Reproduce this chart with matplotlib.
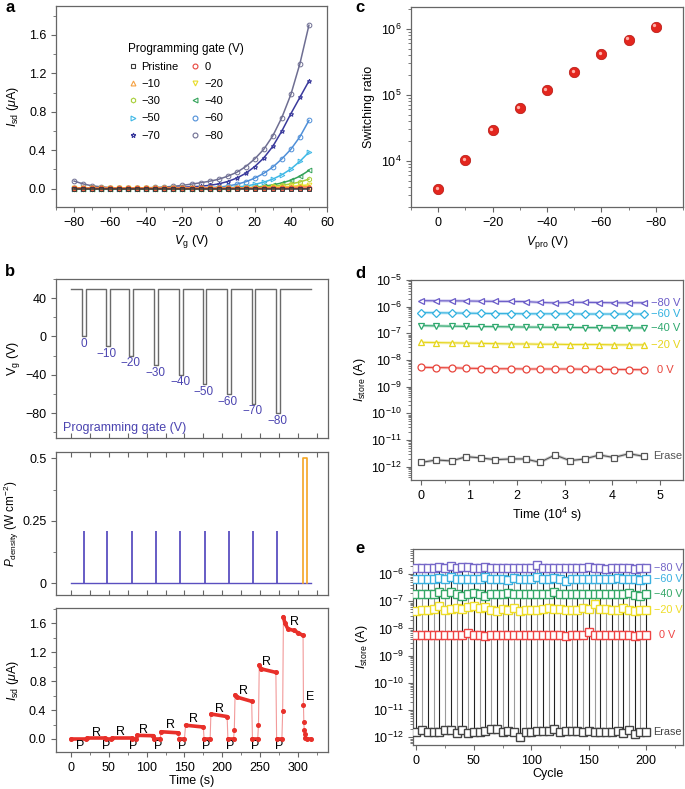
import numpy as np
import matplotlib
matplotlib.use('Agg')
import matplotlib.pyplot as plt
from matplotlib.lines import Line2D
from matplotlib import transforms
from matplotlib.ticker import MultipleLocator, FormatStrFormatter, LogLocator, NullFormatter, LogFormatterMathtext

plt.rcParams['font.family'] = ['Liberation Sans', 'DejaVu Sans']
plt.rcParams['mathtext.fontset'] = 'custom'
plt.rcParams['mathtext.rm'] = 'Liberation Sans'
plt.rcParams['mathtext.it'] = 'Liberation Sans:italic'
plt.rcParams['mathtext.bf'] = 'Liberation Sans:bold'
plt.rcParams['font.size'] = 9
plt.rcParams['axes.linewidth'] = 0.9
plt.rcParams['axes.edgecolor'] = '#666666'
plt.rcParams['xtick.color'] = '#666666'
plt.rcParams['ytick.color'] = '#666666'
plt.rcParams['xtick.labelcolor'] = 'black'
plt.rcParams['ytick.labelcolor'] = 'black'
plt.rcParams['xtick.major.size'] = 3.5
plt.rcParams['ytick.major.size'] = 3.5
plt.rcParams['xtick.minor.size'] = 2
plt.rcParams['ytick.minor.size'] = 2

MINUS = '\u2212'

# ---------------- panel a : transfer curves ----------------
vg_a = [-80, -75, -70, -65, -60, -55, -50, -45, -40, -35, -30, -25, -20, -15, -10, -5,
        0, 5, 10, 15, 20, 25, 30, 35, 40, 45, 50]
isd_pristine = [0, 0, 0, 0, 0, 0, 0, 0, 0, 0, 0, 0, 0, 0, 0, 0, 0, 0, 0, 0, 0, 0, 0, 0, 0, 0, 0]
isd_0 = [0.003, 0.003, 0.003, 0.003, 0.003, 0.003, 0.003, 0.003, 0.003, 0.003, 0.003, 0.003, 0.003,
         0.003, 0.003, 0.003, 0.003, 0.003, 0.003, 0.003, 0.003, 0.004, 0.004, 0.004, 0.005, 0.005, 0.006]
isd_10 = [0.009, 0.009, 0.009, 0.009, 0.009, 0.009, 0.009, 0.009, 0.009, 0.009, 0.009, 0.009, 0.009,
          0.009, 0.009, 0.009, 0.009, 0.009, 0.009, 0.009, 0.01, 0.011, 0.012, 0.014, 0.016, 0.019, 0.022]
isd_20 = [0.003, 0.003, 0.003, 0.003, 0.003, 0.003, 0.003, 0.003, 0.003, 0.003, 0.003, 0.003, 0.003,
          0.003, 0.003, 0.003, 0.003, 0.003, 0.003, 0.005, 0.007, 0.01, 0.014, 0.019, 0.025, 0.032, 0.04]
isd_30 = [0.002, 0.002, 0.002, 0.002, 0.002, 0.002, 0.002, 0.002, 0.002, 0.002, 0.002, 0.002, 0.002,
          0.002, 0.002, 0.002, 0.002, 0.002, 0.004, 0.007, 0.011, 0.017, 0.025, 0.036, 0.05, 0.07, 0.10]
isd_40 = [0.002, 0.002, 0.002, 0.002, 0.002, 0.002, 0.002, 0.002, 0.002, 0.002, 0.002, 0.002, 0.002,
          0.002, 0.002, 0.002, 0.002, 0.002, 0.005, 0.009, 0.016, 0.026, 0.04, 0.06, 0.088, 0.13, 0.19]
isd_50 = [0.002, 0.002, 0.002, 0.002, 0.002, 0.002, 0.002, 0.002, 0.002, 0.002, 0.002, 0.002, 0.002,
          0.002, 0.003, 0.004, 0.006, 0.01, 0.017, 0.028, 0.045, 0.068, 0.1, 0.145, 0.205, 0.285, 0.38]
isd_60 = [0.003, 0.003, 0.003, 0.003, 0.003, 0.003, 0.003, 0.003, 0.003, 0.003, 0.003, 0.003, 0.004,
          0.005, 0.007, 0.011, 0.017, 0.028, 0.046, 0.072, 0.11, 0.16, 0.225, 0.31, 0.41, 0.54, 0.71]
isd_70 = [0.01, 0.008, 0.006, 0.005, 0.005, 0.005, 0.005, 0.005, 0.006, 0.007, 0.009, 0.012, 0.016,
          0.02, 0.026, 0.035, 0.05, 0.075, 0.11, 0.16, 0.23, 0.32, 0.44, 0.6, 0.78, 0.95, 1.12]
isd_80 = [0.08, 0.05, 0.03, 0.02, 0.012, 0.008, 0.007, 0.008, 0.01, 0.013, 0.018, 0.025, 0.035,
          0.048, 0.062, 0.078, 0.098, 0.13, 0.17, 0.23, 0.31, 0.41, 0.55, 0.74, 0.98, 1.3, 1.70]

series_a = [
    ('Pristine', isd_pristine, 's', '#3a3a3a'),
    ('0', isd_0, 'o', '#e8453c'),
    (MINUS + '10', isd_10, '^', '#f5a142'),
    (MINUS + '20', isd_20, 'v', '#e8dc2a'),
    (MINUS + '30', isd_30, 'h', '#a8cf3a'),
    (MINUS + '40', isd_40, '<', '#34a35a'),
    (MINUS + '50', isd_50, '>', '#3fb8e6'),
    (MINUS + '60', isd_60, 'o', '#4f8fd8'),
    (MINUS + '70', isd_70, '*', '#3a3a9c'),
    (MINUS + '80', isd_80, 'o', '#6e6e92'),
]

# ---------------- panel b : programming sequence ----------------
prog_v = [0, -10, -20, -30, -40, -50, -60, -70, -80]
pulse_start = [15, 46, 77, 110, 143, 174, 206, 239, 271]
pulse_width = 5
vg_base = 50
t_end = 317

light_t = [17.2, 48, 80.7, 112.5, 144.7, 177, 209, 241, 273]
light_p = 0.21
erase_on, erase_off, erase_p = 306.5, 312.3, 0.5

isd_t = [0, 20, 21, 45, 46, 53, 54, 80, 81, 86, 87, 109, 110, 118, 119, 142, 143, 150, 151.5, 175,
         176, 184, 185, 206.5, 207.5, 215, 216, 217, 219, 239, 240, 247, 248, 249, 251, 271, 272,
         279, 280, 281, 283, 287, 295, 300, 307, 307.5, 308, 308.5, 309, 310, 312, 318]
isd_v = [0, 0, 0.008, 0.008, 0, 0, 0.02, 0.02, 0, 0, 0.05, 0.045, 0, 0, 0.1, 0.085, 0, 0, 0.19, 0.165,
         0, 0, 0.345, 0.31, 0, 0, 0.12, 0.61, 0.58, 0.52, 0, 0, 0.2, 1.02, 0.97, 0.92, 0,
         0, 0.38, 1.69, 1.6, 1.52, 1.5, 1.47, 1.43, 0.47, 0.24, 0.13, 0.07, 0.02, 0, 0]

r_label_t = [33, 65, 96, 131, 162, 196, 228, 259, 296]
r_label_y = [0.087, 0.1, 0.125, 0.19, 0.27, 0.415, 0.66, 1.07, 1.61]
p_label_t = [12, 47, 82, 115.6, 146.5, 178.8, 211, 243.4, 275.6]
e_label = (316, 0.58)

# ---------------- panel c : switching ratio ----------------
vpro = [0, -10, -20, -30, -40, -50, -60, -70, -80]
ratio = [3.7e3, 1.02e4, 2.9e4, 6.2e4, 1.17e5, 2.2e5, 4.1e5, 6.8e5, 1.08e6]

# ---------------- panel d : retention ----------------
time_d = [0, 0.31, 0.63, 0.94, 1.25, 1.55, 1.87, 2.18, 2.48, 2.8, 3.11, 3.42, 3.73, 4.03, 4.35, 4.66]
d_m80 = np.array([1.68, 1.66, 1.65, 1.64, 1.6, 1.58, 1.57, 1.55, 1.45, 1.38, 1.45, 1.45, 1.43, 1.4, 1.4, 1.4]) * 1e-6
d_m60 = np.array([6.0, 5.9, 5.8, 5.7, 5.6, 5.5, 5.5, 5.4, 5.4, 5.4, 5.4, 5.3, 5.3, 5.3, 5.3, 5.3]) * 1e-7
d_m40 = np.array([1.95, 1.9, 1.85, 1.82, 1.8, 1.78, 1.75, 1.72, 1.7, 1.68, 1.66, 1.65, 1.63, 1.62, 1.6, 1.6]) * 1e-7
d_m20 = np.array([4.6, 4.5, 4.4, 4.3, 4.2, 4.1, 4.0, 4.0, 3.9, 3.9, 3.8, 3.8, 3.8, 3.7, 3.7, 3.7]) * 1e-8
d_0 = np.array([5.3, 5.2, 5.1, 4.9, 4.8, 4.7, 4.7, 4.6, 4.6, 4.6, 4.6, 4.5, 4.5, 4.4, 4.4, 4.3]) * 1e-9
d_erase = np.array([1.45, 1.78, 1.64, 2.37, 2.12, 1.83, 1.95, 1.95, 1.45, 2.75, 1.68, 1.95, 2.75, 2.2, 3.08, 2.43]) * 1e-12

# ---------------- panel e : endurance ----------------
cycle_e = [0, 5, 10, 15, 20, 25, 30, 35, 40, 45, 50, 55, 60, 65, 70, 75, 80, 85, 90, 95, 100,
           105, 110, 115, 120, 125, 130, 135, 140, 145, 150, 155, 160, 165, 170, 175, 180, 185, 190, 195, 200]
e_m80 = np.array([1.6, 1.6, 1.6, 1.7, 1.8, 1.6, 2.0, 1.6, 1.75, 1.75, 1.7, 1.6, 1.75, 1.6, 1.6, 1.6, 1.7, 1.6,
                  1.6, 1.6, 1.6, 2.2, 1.6, 1.7, 1.6, 1.7, 1.6, 1.6, 1.6, 1.6, 1.8, 1.6, 1.7, 1.55, 1.6, 1.7,
                  1.6, 1.6, 1.5, 1.7, 1.7]) * 1e-6
e_m60 = np.array([6.5, 6.5, 6.5, 6.5, 7.0, 6.5, 7.5, 6.5, 6.5, 6.5, 6.5, 6.5, 7.5, 6.5, 6.5, 6.5, 6.0, 7.3,
                  6.5, 6.5, 6.5, 7.5, 6.5, 6.5, 7.3, 6.5, 5.7, 6.5, 6.5, 6.5, 6.5, 6.5, 6.5, 6.5, 6.5, 7.2,
                  6.5, 6.5, 6.5, 6.0, 6.5]) * 1e-7
e_m40 = np.array([1.8, 1.8, 1.8, 1.9, 2.1, 1.8, 2.1, 1.8, 1.6, 1.9, 2.0, 1.8, 1.6, 1.8, 1.8, 1.8, 2.0, 1.8,
                  1.8, 1.8, 1.8, 1.8, 1.8, 1.8, 2.1, 1.8, 1.8, 1.8, 1.8, 1.8, 1.8, 1.8, 1.8, 1.9, 1.8, 1.8,
                  1.8, 2.0, 1.7, 1.6, 1.8]) * 1e-7
e_m20 = np.array([4.3, 4.9, 4.9, 5.3, 6.8, 4.9, 5.2, 5.6, 5.2, 6.1, 6.8, 5.6, 6.2, 4.9, 4.5, 5.4, 4.9, 5.6,
                  4.3, 4.9, 4.9, 4.9, 5.0, 5.8, 5.3, 5.3, 4.9, 4.6, 4.9, 5.8, 5.4, 7.9, 5.0, 5.2, 4.6, 4.9,
                  5.6, 4.6, 4.3, 4.9, 4.6]) * 1e-8
e_0 = np.array([6.0, 5.6, 5.6, 5.6, 5.6, 5.6, 5.6, 5.6, 5.6, 7.0, 5.6, 5.6, 5.4, 5.6, 5.6, 5.6, 5.6, 5.6,
                5.6, 5.6, 5.6, 5.6, 5.6, 5.6, 5.6, 5.6, 5.4, 5.6, 5.6, 5.6, 7.5, 5.6, 5.6, 5.6, 5.6, 5.6,
                5.6, 5.6, 5.4, 5.6, 5.6]) * 1e-9
e_erase = np.array([1.62, 1.86, 1.53, 1.53, 1.53, 1.86, 1.86, 1.41, 1.86, 1.41, 1.62, 1.53, 1.7, 1.97, 1.97,
                    1.53, 1.75, 1.53, 1.0, 1.53, 1.53, 1.7, 1.7, 1.7, 1.97, 1.62, 1.7, 1.7, 1.7, 1.53, 1.7,
                    1.62, 1.53, 1.53, 1.53, 1.7, 1.41, 1.86, 1.32, 1.53, 1.53]) * 1e-12

W, H = 685, 789
fig = plt.figure(figsize=(W / 100, H / 100), dpi=100)


def add_ax(l, t, r, b):
  return fig.add_axes([l / W, 1 - b / H, (r - l) / W, (b - t) / H])


def dash(s):
  return s.replace('-', MINUS)


# ===== a =====
axa = add_ax(56, 6, 327, 207)
for name, vals, mk, col in series_a[::-1]:
  axa.plot(vg_a, vals, color=col, lw=1.1, marker=mk, ms=3.4, mfc='none', mew=0.7)
axa.set_xlim(-90, 60)
axa.set_ylim(-0.19, 1.9)
axa.xaxis.set_major_locator(MultipleLocator(20))
axa.xaxis.set_minor_locator(MultipleLocator(10))
axa.yaxis.set_major_locator(MultipleLocator(0.4))
axa.yaxis.set_minor_locator(MultipleLocator(0.2))
axa.yaxis.set_major_formatter(FormatStrFormatter('%.1f'))
axa.tick_params(which='both', top=False, right=False, direction='out')
axa.set_xlabel(r'$V_{\rm g}$ (V)', labelpad=3)
axa.set_ylabel(r'$I_{\rm sd}$ ($\mu$A)', labelpad=6)
order = [0, 2, 4, 6, 8, 1, 3, 5, 7, 9]
handles = [Line2D([], [], ls='none', marker=series_a[i][2], color=series_a[i][3], mfc='none', ms=3.5, mew=0.8) for i in order]
labels = [series_a[i][0] for i in order]
leg = axa.legend(handles, labels, ncol=2, frameon=False, title='Programming gate (V)', fontsize=8,
                 title_fontsize=8.5, loc='upper left', bbox_to_anchor=(0.25, 0.84), handlelength=0.8,
                 handletextpad=0.4, columnspacing=1.1, labelspacing=0.65, alignment='left', borderaxespad=0)

# ===== b top =====
axb1 = add_ax(56, 279, 328, 438)
tt = [0]
vv = [vg_base]
for s, pv in zip(pulse_start, prog_v):
  tt += [s, s, s + pulse_width, s + pulse_width]
  vv += [vg_base, pv, pv, vg_base]
tt.append(t_end)
vv.append(vg_base)
axb1.plot(tt, vv, color='#6a6a6a', lw=1)
for s, pv in zip(pulse_start, prog_v):
  axb1.text(s + 1.5, pv - 8, dash(str(pv)), color='#4b44b0', ha='center', va='center', fontsize=8.5)
axb1.text(0.025, 0.065, 'Programming gate (V)', color='#4b44b0', transform=axb1.transAxes,
          ha='left', va='center', fontsize=9)
axb1.set_xlim(-20, 340)
axb1.set_ylim(-106, 60)
axb1.yaxis.set_major_locator(MultipleLocator(40))
axb1.yaxis.set_minor_locator(MultipleLocator(20))
axb1.xaxis.set_major_locator(MultipleLocator(25))
axb1.tick_params(axis='x', which='both', direction='in', labelbottom=False, top=False)
axb1.tick_params(axis='y', which='both', direction='out', right=False)
axb1.set_ylabel(r'V$_{\rm g}$ (V)', labelpad=2)

# ===== b middle =====
axb2 = add_ax(56, 452, 328, 595)
axb2.plot([0, t_end], [0, 0], color='#5a4fc0', lw=1)
axb2.vlines(light_t, 0, light_p, color='#5a4fc0', lw=1.3)
axb2.plot([erase_on, erase_on, erase_off, erase_off], [0, erase_p, erase_p, 0], color='#f5a623', lw=1.2)
axb2.set_xlim(-20, 340)
axb2.set_ylim(-0.047, 0.525)
axb2.set_yticks([0, 0.25, 0.5])
axb2.set_yticklabels(['0', '0.25', '0.5'])
axb2.yaxis.set_minor_locator(MultipleLocator(0.125))
axb2.xaxis.set_major_locator(MultipleLocator(25))
axb2.tick_params(axis='x', which='both', direction='in', labelbottom=False, top=True)
axb2.tick_params(axis='y', which='both', direction='out', right=False)
axb2.set_ylabel(r'$P_{\rm density}$ (W cm$^{-2}$)', labelpad=1, fontsize=8.5)

# ===== b bottom =====
axb3 = add_ax(56, 608, 328, 752)
axb3.plot(isd_t, isd_v, color='#f29a9a', lw=0.8, zorder=2)
for i in range(len(isd_t) - 1):
  if isd_t[i + 1] - isd_t[i] > 1.2 and abs(isd_v[i + 1] - isd_v[i]) < 0.1:
    axb3.plot(isd_t[i:i + 2], isd_v[i:i + 2], color='#e8302a', lw=2.6, solid_capstyle='round', zorder=3)
axb3.plot(isd_t, isd_v, ls='none', marker='o', ms=2.6, color='#e8302a', zorder=4)
for t, y in zip(r_label_t, r_label_y):
  axb3.text(t, y, 'R', ha='center', va='center', fontsize=9)
for t in p_label_t:
  axb3.text(t, -0.1, 'P', ha='center', va='center', fontsize=9)
axb3.text(e_label[0], e_label[1], 'E', ha='center', va='center', fontsize=9)
axb3.set_xlim(-20, 340)
axb3.set_ylim(-0.18, 1.81)
axb3.xaxis.set_major_locator(MultipleLocator(50))
axb3.xaxis.set_minor_locator(MultipleLocator(25))
axb3.yaxis.set_major_locator(MultipleLocator(0.4))
axb3.yaxis.set_minor_locator(MultipleLocator(0.2))
axb3.yaxis.set_major_formatter(FormatStrFormatter('%.1f'))
axb3.tick_params(axis='x', which='both', direction='out', top=False)
axb3.tick_params(axis='y', which='both', direction='out', right=False)
axb3.set_xlabel('Time (s)', labelpad=1)
axb3.set_ylabel(r'$I_{\rm sd}$ ($\mu$A)', labelpad=6)

# ===== c =====
axc = add_ax(411, 7, 683, 207)
hl = transforms.offset_copy(axc.transData, fig=fig, x=-1.1, y=1.1, units='points')
axc.plot(vpro, ratio, ls='none', marker='o', ms=7.5, color='#e3261e', mec='#b51410', mew=0.5)
axc.plot(vpro, ratio, ls='none', marker='o', ms=2.4, color='#ffb0a8', mew=0, transform=hl)
axc.set_yscale('log')
axc.set_xlim(10, -90)
axc.set_ylim(10 ** 3.3, 10 ** 6.33)
axc.xaxis.set_major_locator(MultipleLocator(20))
axc.xaxis.set_minor_locator(MultipleLocator(10))
axc.xaxis.set_major_formatter(plt.FuncFormatter(lambda v, p: dash('%d' % v)))
axc.yaxis.set_major_locator(LogLocator(base=10))
axc.yaxis.set_minor_locator(LogLocator(base=10, subs=np.arange(2, 10)))
axc.yaxis.set_minor_formatter(NullFormatter())
axc.tick_params(which='both', top=False, right=False, direction='out')
axc.set_xlabel(r'$V_{\rm pro}$ (V)', labelpad=4)
axc.set_ylabel('Switching ratio', labelpad=4)

# ===== d =====
axd = add_ax(411, 280, 683, 480)
series_d = [
    (d_m80, '<', '#6b5cc8', MINUS + '80 V', 4.8),
    (d_m60, 'D', '#33b2e0', MINUS + '60 V', 4.8),
    (d_m40, 'v', '#2fa86e', MINUS + '40 V', 4.8),
    (d_m20, '^', '#e6d51c', MINUS + '20 V', 4.8),
    (d_0, 'o', '#e8453c', '0 V', 4.93),
    (d_erase, 's', '#555555', 'Erase', 4.85),
]
for vals, mk, col, lbl, lx in series_d:
  axd.plot(time_d, vals, color=col, lw=2.2, alpha=0.3)
  axd.plot(time_d, vals, color=col, lw=0.8, marker=mk, ms=5 if mk != 'D' else 4.5, mfc='white', mec=col, mew=0.9)
  axd.text(lx, vals[-1], lbl, color=col, va='center', ha='left', fontsize=8)
axd.set_yscale('log')
axd.set_xlim(-0.22, 5.48)
axd.set_ylim(10 ** -12.5, 1e-5)
axd.xaxis.set_major_locator(MultipleLocator(1))
axd.xaxis.set_minor_locator(MultipleLocator(0.5))
axd.yaxis.set_major_locator(LogLocator(base=10, numticks=20))
axd.yaxis.set_minor_locator(LogLocator(base=10, subs=np.arange(2, 10), numticks=20))
axd.yaxis.set_major_formatter(LogFormatterMathtext())
axd.yaxis.set_minor_formatter(NullFormatter())
axd.tick_params(which='both', top=False, right=False, direction='out')
axd.set_xlabel(r'Time (10$^{4}$ s)', labelpad=3)
axd.set_ylabel(r'$I_{\rm store}$ (A)', labelpad=2)

# ===== e =====
axe = add_ax(413, 549, 683, 745)
line_cols = ['#222222', '#9a9a9a']
for i, c in enumerate(cycle_e):
  axe.vlines(c, e_erase[i], e_m80[i], color=line_cols[i % 2], lw=0.8, zorder=1)
series_e = [
    (e_m80, '#7668c8', MINUS + '80 V', 207),
    (e_m60, '#3ab0e0', MINUS + '60 V', 207),
    (e_m40, '#35a868', MINUS + '40 V', 207),
    (e_m20, '#eedd28', MINUS + '20 V', 207),
    (e_0, '#ee4444', '0 V', 211),
    (e_erase, '#444444', 'Erase', 206),
]
for vals, col, lbl, lx in series_e:
  axe.plot(cycle_e, vals, color=col, lw=0.8, marker='s', ms=5.5, mfc='white', mec=col, mew=1, zorder=3)
  axe.text(lx, vals[-1], lbl, color=col, va='center', ha='left', fontsize=7.8)
axe.set_yscale('log')
axe.set_xlim(-3, 232)
axe.set_ylim(10 ** -12.28, 10 ** -5.08)
axe.xaxis.set_major_locator(MultipleLocator(50))
axe.xaxis.set_minor_locator(MultipleLocator(25))
axe.yaxis.set_major_locator(LogLocator(base=10, numticks=20))
axe.yaxis.set_minor_locator(LogLocator(base=10, subs=np.arange(2, 10), numticks=20))
axe.yaxis.set_major_formatter(LogFormatterMathtext())
axe.yaxis.set_minor_formatter(NullFormatter())
axe.tick_params(which='both', top=False, right=False, direction='out')
axe.set_xlabel('Cycle', labelpad=1)
axe.set_ylabel(r'$I_{\rm store}$ (A)', labelpad=2)

# panel letters
for letter, x, y in [('a', 5, 0), ('b', 5, 264), ('c', 355, 0), ('d', 355, 266), ('e', 355, 541)]:
  fig.text(x / W, 1 - y / H, letter, fontsize=12, fontweight='bold', va='top', ha='left')

fig.savefig('out.png', dpi=100)
